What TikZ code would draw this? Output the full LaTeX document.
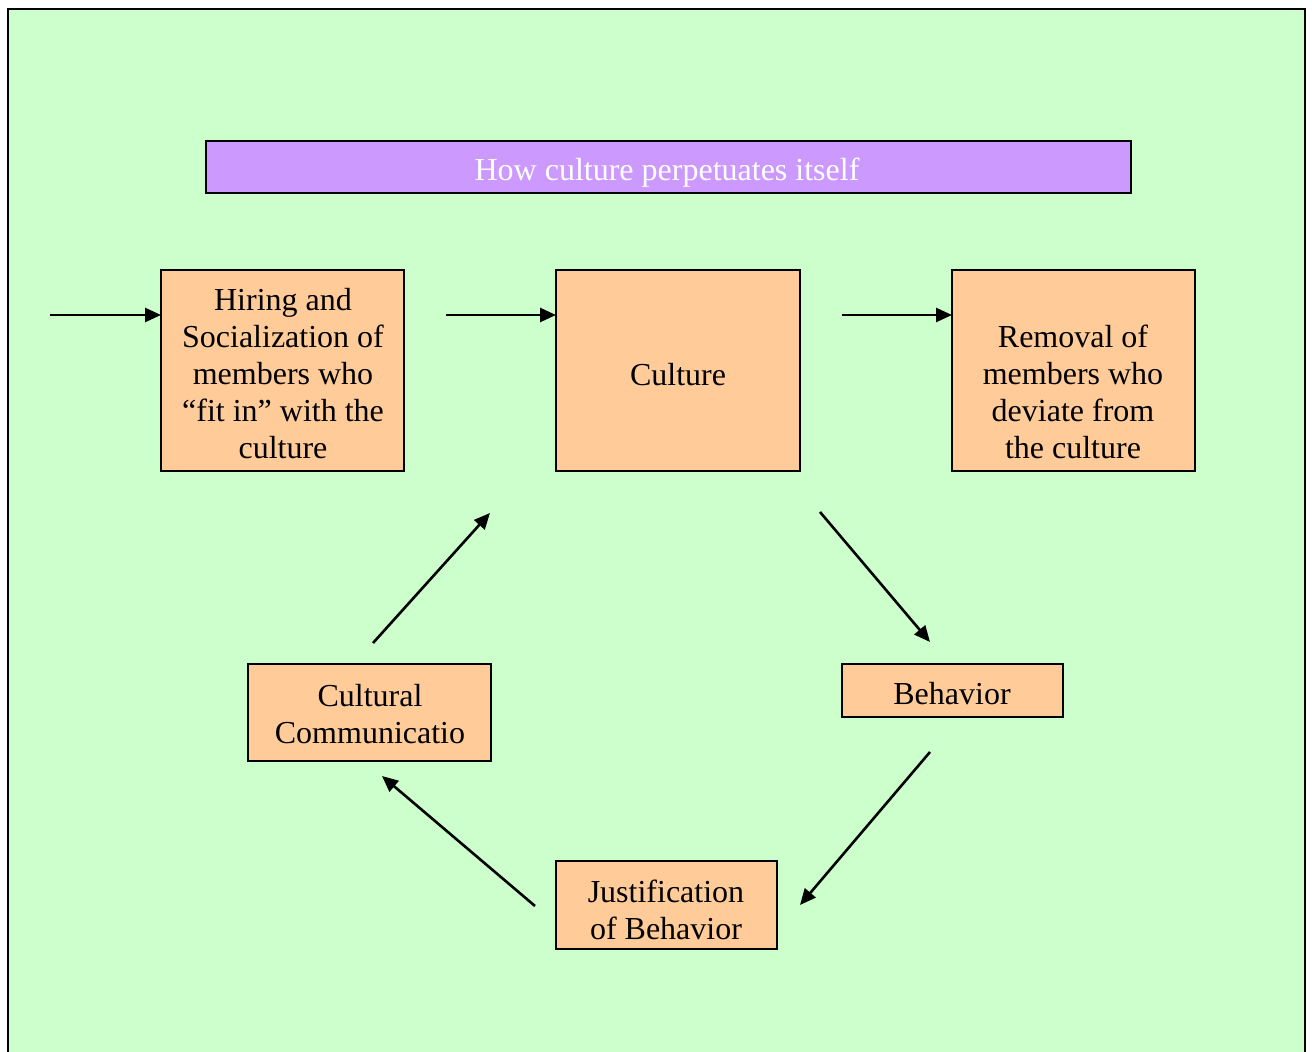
\documentclass[tikz,border=0pt]{standalone}
\usepackage{fontspec}
\setmainfont{Liberation Serif}
\usetikzlibrary{arrows.meta}
\definecolor{bggreen}{HTML}{CCFFCC}
\definecolor{boxorange}{HTML}{FFCC99}
\definecolor{titlepurple}{HTML}{CC99FF}
\begin{document}
\begin{tikzpicture}[x=0.5pt,y=-0.5pt,
  box/.style={draw=black,line width=1pt,fill=boxorange,inner sep=0pt,outer sep=0pt},
  txt/.style={align=center,font=\fontsize{16}{18.5}\selectfont,inner sep=0pt},
  conn/.style={line width=1.3pt,-{Triangle[length=8pt,width=7pt]}}]
\useasboundingbox (0,0) rectangle (1312,1052);
% frame
\fill[bggreen] (8,9) rectangle (1305,1052);
\draw[line width=1pt] (8,1052) -- (8,9) -- (1305,9) -- (1305,1052);
% title
\node[draw=black,line width=1pt,fill=titlepurple,minimum width=462.5pt,minimum height=26pt,inner sep=0pt,anchor=north west] (title) at (205,140) {};
\node[txt,text=white] (titlet) at (667,173) {How culture perpetuates itself};
% boxes
\node[box,minimum width=121.5pt,minimum height=100.5pt,anchor=north west] (hire) at (161,270) {};
\node[txt] (hiret) at (283,374) {Hiring and\\Socialization of\\members who\\“fit in” with the\\culture};
\node[box,minimum width=122pt,minimum height=100.5pt,anchor=north west] (cult) at (556,270) {};
\node[txt] (cultt) at (678,375) {Culture};
\node[box,minimum width=121.5pt,minimum height=100.5pt,anchor=north west] (remo) at (952,270) {};
\node[txt] (remot) at (1073,392) {Removal of\\members who\\deviate from\\the culture};
\node[box,minimum width=110.5pt,minimum height=26.5pt,anchor=north west] (beh) at (842,664) {};
\node[txt] (beht) at (952,694) {Behavior};
\node[box,minimum width=110.5pt,minimum height=44pt,anchor=north west] (just) at (556,861) {};
\node[txt] (justt) at (666,910) {Justification\\of Behavior};
\node[box,minimum width=121.5pt,minimum height=48.5pt,anchor=north west] (comm) at (248,664) {};
\node[txt] (commt) at (370,714) {Cultural\\Communicatio};
% connector ends
\coordinate (in1) at (50,315);
\coordinate (hireR) at (446,315);
\coordinate (cultRin) at (556,315);
\coordinate (cultR) at (842,315);
\coordinate (remoL) at (952,315);
\coordinate (hireL) at (161,315);
\coordinate (a1s) at (820,512);
\coordinate (a1e) at (930,642);
\coordinate (a2s) at (930,752);
\coordinate (a2e) at (800,905);
\coordinate (a3s) at (535,906);
\coordinate (a3e) at (382,776);
\coordinate (a4s) at (373,643);
\coordinate (a4e) at (490,513);
\draw[conn] (in1) -- (hireL);
\draw[conn] (hireR) -- (cultRin);
\draw[conn] (cultR) -- (remoL);
\draw[conn] (a1s) -- (a1e);
\draw[conn] (a2s) -- (a2e);
\draw[conn] (a3s) -- (a3e);
\draw[conn] (a4s) -- (a4e);
\end{tikzpicture}
\end{document}
